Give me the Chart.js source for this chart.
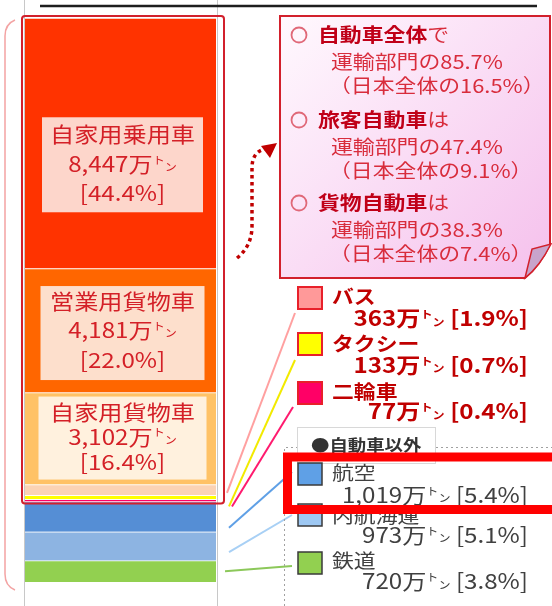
<!DOCTYPE html>
<html><head><meta charset="utf-8">
<script src="https://cdn.jsdelivr.net/npm/chart.js@4.4.0/dist/chart.umd.min.js"></script>
<style>html,body{margin:0;padding:0;background:#fff;overflow:hidden}canvas{display:block}</style>
</head><body>
<canvas id="c" width="552" height="606"></canvas>
<script>
// ---- data ----
const categories = ['運輸部門'];
const seriesNames = ['自家用乗用車','営業用貨物車','自家用貨物車','バス','タクシー','二輪車','航空','内航海運','鉄道'];
const seriesValues = [8447, 4181, 3102, 363, 133, 77, 1019, 973, 720];
const seriesShares = [44.4, 22.0, 16.4, 1.9, 0.7, 0.4, 5.4, 5.1, 3.8];
const calloutHeads = ['自動車全体', '旅客自動車', '貨物自動車'];
const calloutTails = ['で', 'は', 'は'];
const calloutTransportShare = [85.7, 47.4, 38.3];
const calloutJapanShare = [16.5, 9.1, 7.4];
const otherHeader = '●自動車以外';
const unitMan = '万';

// ---- style ----
const barColors = ['#FF3300','#FF6600','#FFC266','#FBD3B5','#FFFF00','#FF0066','#558ED5','#8DB4E2','#92D050'];
const swatchColors = ['#FF3300','#FF6600','#FFC266','#FF9999','#FFFF00','#FF0066','#5FA0E6','#9EC8F3','#92D050'];
const lineColors = ['','','','#FFA0A0','#F2EA00','#FF1A6E','#5FA0E6','#A8D0F5','#8CC85A'];
const S = 1.15;
const FF = '"Noto Sans CJK JP","Noto Sans",sans-serif';
function font(size, weight){ return (weight||'normal') + ' ' + size + 'px ' + FF; }
function runsWidth(ctx, runs){
  let w = 0; runs.forEach(r => { ctx.font = font(r.size, r.weight); w += ctx.measureText(r.t).width * S; }); return w;
}
function drawRuns(ctx, runs, x, y, align){
  const total = runsWidth(ctx, runs);
  let cx = align === 'center' ? x - total/2 : align === 'right' ? x - total : x;
  runs.forEach(r => {
    ctx.save();
    ctx.font = font(r.size, r.weight);
    ctx.fillStyle = r.color;
    ctx.textBaseline = 'middle';
    ctx.textAlign = 'left';
    const w = ctx.measureText(r.t).width * S;
    ctx.translate(cx, y + (r.dy || 0));
    ctx.scale(S, 1);
    ctx.fillText(r.t, 0, 0);
    ctx.restore();
    cx += w;
  });
}
function tonRuns(size, weight, color){
  return [
    {t:'ト', size:size*0.5, weight, color, dy:-size*0.2},
    {t:'ン', size:size*0.5, weight, color, dy:size*0.15}
  ];
}
function fmt(v){ return v.toLocaleString('en-US'); }

const barLabelStyle = {
  0: {fill:'#FDD6CB', w:161, h:95, dy:21.5, lines:[-31,-1,28]},
  1: {fill:'#FDDFCC', w:164, h:94, dy:2.5, lines:[-32,-3,27]},
  2: {fill:'#FFF1DE', w:168, h:83, dy:-0.5, lines:[-26,-1.5,23.5]}
};
const legendLayout = {
  3: {sy:287, ly:297, vy:318.5, ex:295, ey:313, sdx:11, sdy:3},
  4: {sy:333, ly:343.5, vy:365, ex:295, ey:360, sdx:13, sdy:9},
  5: {sy:382, ly:391.5, vy:411.5, ex:293, ey:407, sdx:16, sdy:6},
  6: {sy:463, ly:473, vy:495, ex:292, ey:472, sdx:13, sdy:11},
  7: {sy:504, ly:516, vy:535, ex:292, ey:515, sdx:13, sdy:6},
  8: {sy:552, ly:561, vy:581.5, ex:292, ey:566, sdx:9, sdy:0}
};

const total = seriesValues.reduce((a,b)=>a+b,0);

const datasets = seriesNames.map((n,i)=>({
  label:n, sIdx:i, data:[seriesValues[i]],
  backgroundColor:barColors[i],
  borderColor:'rgba(255,255,255,0.75)',
  borderWidth:{top:1,bottom:0,left:0,right:0},
  borderSkipped:false,
  barPercentage:1, categoryPercentage:1
})).reverse();

function segOf(chart, i){
  const di = chart.data.datasets.findIndex(d=>d.sIdx===i);
  const el = chart.getDatasetMeta(di).data[0];
  return {top:Math.min(el.y, el.base), bottom:Math.max(el.y, el.base), x:el.x, w:el.width,
          left:el.x-el.width/2, right:el.x+el.width/2, mid:(el.y+el.base)/2};
}

const backdrop = {
  id:'backdrop',
  beforeDraw(chart){
    const ctx = chart.ctx, ca = chart.chartArea, H = chart.height;
    ctx.save();
    ctx.fillStyle = '#fff'; ctx.fillRect(0,0,chart.width,H);
    ctx.strokeStyle = '#C8C8C8'; ctx.lineWidth = 1;
    ctx.beginPath();
    ctx.moveTo(ca.left-0.5, 0); ctx.lineTo(ca.left-0.5, H);
    ctx.moveTo(ca.right+1.5, 0); ctx.lineTo(ca.right+1.5, H);
    ctx.stroke();
    // top rule
    ctx.strokeStyle = '#1E1E1E'; ctx.lineWidth = 2.5;
    ctx.beginPath(); ctx.moveTo(40, 6); ctx.lineTo(537, 6); ctx.stroke();
    // left brace
    ctx.strokeStyle = '#F3A3A3'; ctx.lineWidth = 1.5;
    ctx.beginPath();
    ctx.moveTo(15, 20); ctx.quadraticCurveTo(5, 24, 5, 36);
    ctx.lineTo(5, 574); ctx.quadraticCurveTo(5, 586, 15, 590);
    ctx.stroke();
    ctx.restore();
  }
};

const overlay = {
  id:'overlay',
  afterDatasetsDraw(chart){
    const ctx = chart.ctx, ca = chart.chartArea;
    ctx.save();
    // bar labels
    Object.keys(barLabelStyle).forEach(k=>{
      const i = +k, st = barLabelStyle[k], sg = segOf(chart, i);
      const cx = sg.x + 2, cy = sg.mid + st.dy;
      ctx.fillStyle = st.fill;
      ctx.fillRect(cx - st.w/2, cy - st.h/2, st.w, st.h);
      const col = '#D42027', fs = 21;
      drawRuns(ctx, [{t:seriesNames[i], size:fs, color:col}], cx, cy + st.lines[0], 'center');
      drawRuns(ctx, [{t:fmt(seriesValues[i]) + unitMan, size:fs, color:col}].concat(tonRuns(fs,'normal',col)), cx, cy + st.lines[1], 'center');
      drawRuns(ctx, [{t:'[' + seriesShares[i].toFixed(1) + '%]', size:fs, color:col}], cx, cy + st.lines[2], 'center');
    });
    // red outline around automobile segments
    const topSeg = segOf(chart, 0), lastAuto = segOf(chart, 5);
    ctx.strokeStyle = '#D2202C'; ctx.lineWidth = 2;
    ctx.beginPath();
    ctx.roundRect(ca.left - 3, topSeg.top - 2, (ca.right + 8) - (ca.left - 3), (lastAuto.bottom + 2) - (topSeg.top - 2), 3);
    ctx.stroke();

    // connectors
    Object.keys(legendLayout).forEach(k=>{
      const i = +k, L = legendLayout[k], sg = segOf(chart, i);
      ctx.strokeStyle = lineColors[i]; ctx.lineWidth = 2;
      ctx.beginPath();
      ctx.moveTo(sg.right + L.sdx, sg.mid + L.sdy);
      ctx.lineTo(L.ex, L.ey);
      ctx.stroke();
    });

    // callout box
    ctx.beginPath();
    ctx.moveTo(280, 16); ctx.lineTo(550, 16); ctx.lineTo(550, 244);
    ctx.quadraticCurveTo(540, 266, 525, 278);
    ctx.lineTo(280, 278); ctx.closePath();
    const g = ctx.createLinearGradient(280, 16, 550, 278);
    g.addColorStop(0, '#FFF9FE'); g.addColorStop(1, '#F5C0EC');
    ctx.fillStyle = g; ctx.fill();
    ctx.strokeStyle = '#D2202C'; ctx.lineWidth = 2; ctx.stroke();
    // folded corner
    ctx.beginPath();
    ctx.moveTo(525, 278); ctx.lineTo(532, 249); ctx.lineTo(551, 244);
    ctx.quadraticCurveTo(540, 266, 525, 278); ctx.closePath();
    ctx.fillStyle = '#C8A4CC'; ctx.fill();
    ctx.strokeStyle = '#D2202C'; ctx.lineWidth = 1.5; ctx.stroke();

    // callout text
    const groupY = [35, 120, 203];
    const boldC = '#C00018', regC = '#D82C3C', cf = 19;
    calloutHeads.forEach((h, k)=>{
      const y0 = groupY[k];
      ctx.strokeStyle = '#E06878'; ctx.lineWidth = 1.8;
      ctx.beginPath(); ctx.arc(299, y0, 7.5, 0, Math.PI*2); ctx.stroke();
      drawRuns(ctx, [{t:h, size:cf, weight:'bold', color:boldC}, {t:calloutTails[k], size:cf, color:regC}], 318, y0, 'left');
      drawRuns(ctx, [{t:'運輸部門の' + calloutTransportShare[k].toFixed(1) + '%', size:cf, color:regC}], 331, y0 + 27, 'left');
      drawRuns(ctx, [{t:'（日本全体の' + calloutJapanShare[k].toFixed(1) + '%）', size:cf, color:regC}], 329, y0 + 51, 'left');
    });

    // dotted arrow
    ctx.strokeStyle = '#C00000'; ctx.lineWidth = 3.5; ctx.setLineDash([3.5, 3.5]);
    ctx.beginPath();
    ctx.moveTo(237, 258); ctx.quadraticCurveTo(252, 246, 252, 226);
    ctx.lineTo(252, 168); ctx.quadraticCurveTo(252, 152, 265, 149);
    ctx.stroke(); ctx.setLineDash([]);
    ctx.fillStyle = '#C00000';
    ctx.beginPath(); ctx.moveTo(277, 143); ctx.lineTo(261, 146); ctx.lineTo(270, 158); ctx.closePath(); ctx.fill();

    // "other" dotted frame + header
    ctx.strokeStyle = '#A0A0A0'; ctx.lineWidth = 1; ctx.setLineDash([2, 3]);
    ctx.beginPath(); ctx.moveTo(284.5, 606); ctx.lineTo(284.5, 447.5); ctx.lineTo(552, 447.5); ctx.stroke();
    ctx.setLineDash([]);
    ctx.fillStyle = '#fff'; ctx.fillRect(297, 427, 138, 36);
    ctx.strokeStyle = '#D8D8D8'; ctx.strokeRect(297.5, 427.5, 138, 36);
    drawRuns(ctx, [{t:otherHeader, size:16, weight:'bold', color:'#333'}], 311, 445, 'left');

    // legend items
    Object.keys(legendLayout).forEach(k=>{
      const i = +k, L = legendLayout[k], auto = i < 6;
      ctx.fillStyle = swatchColors[i];
      ctx.fillRect(298, L.sy, 24, 22);
      ctx.strokeStyle = auto ? '#E8202A' : '#3A3A3A'; ctx.lineWidth = auto ? 2 : 1.5;
      ctx.strokeRect(298, L.sy, 24, 22);
      const col = auto ? '#C00000' : '#404040', wt = auto ? 'bold' : 'normal';
      drawRuns(ctx, [{t:seriesNames[i], size:19, weight:wt, color:col}], 332, L.ly, 'left');
      const vs = 21;
      drawRuns(ctx, [{t:fmt(seriesValues[i]) + unitMan, size:vs, weight:wt, color:col}]
        .concat(tonRuns(vs, wt, col))
        .concat([{t:' [' + seriesShares[i].toFixed(1) + '%]', size:vs, weight:wt, color:col}]), 528, L.vy, 'right');
    });

    // highlight box
    ctx.strokeStyle = '#FF0000'; ctx.lineWidth = 9;
    ctx.strokeRect(287.5, 457, 270, 52.5);
    ctx.restore();
  }
};

new Chart(document.getElementById('c'), {
  type:'bar',
  data:{labels:categories, datasets},
  options:{
    responsive:false, animation:false, devicePixelRatio:1,
    layout:{padding:{left:25, right:336, top:18, bottom:24}},
    plugins:{legend:{display:false}, tooltip:{enabled:false}},
    scales:{
      x:{display:false, stacked:true},
      y:{display:false, stacked:true, min:0, max:total}
    }
  },
  plugins:[backdrop, overlay]
});
</script>
</body></html>
